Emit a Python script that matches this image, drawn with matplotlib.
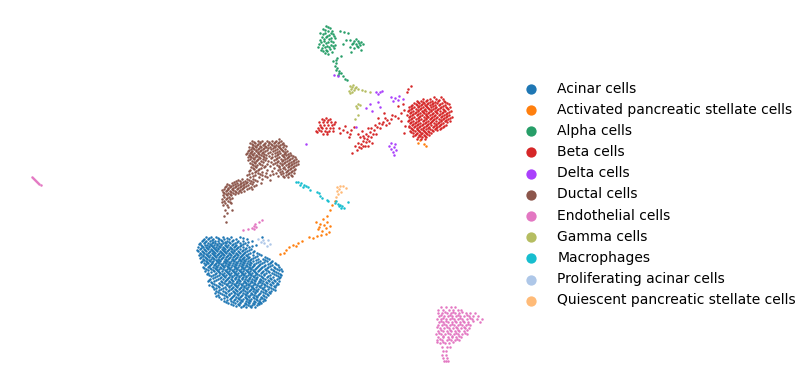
import matplotlib
matplotlib.use("Agg")
import matplotlib.pyplot as plt

# embedding positions, (row, [positions along row]) for dense blobs
acinar_rows = [
    (237, [206, 211, 216, 223, 231, 240, 262]),
    (239, [204, 208, 213, 219, 224, 229, 236, 247]),
    (241, [202, 206, 210, 215, 218, 222, 227, 232, 238, 243, 252]),
    (243, [200, 204, 208, 212, 215, 219, 223, 226, 230, 235, 240, 245]),
    (245, [201, 205, 207, 211, 214, 217, 221, 225, 228, 232, 236, 241, 247, 256]),
    (247, [198, 203, 206, 209, 213, 216, 220, 223, 227, 230, 234, 238, 243, 249]),
    (249, [200, 204, 208, 211, 215, 218, 222, 225, 229, 232, 236, 240, 245, 251]),
    (251, [198, 202, 206, 210, 213, 217, 220, 224, 227, 231, 234, 238, 242, 247, 254]),
    (253, [200, 204, 208, 212, 215, 219, 222, 226, 229, 233, 236, 240, 244, 250, 257]),
    (255, [199, 203, 207, 210, 214, 217, 221, 224, 228, 231, 235, 238, 242, 246, 253, 261]),
    (257, [201, 205, 209, 212, 216, 219, 223, 226, 230, 233, 237, 240, 244, 249, 255, 265]),
    (259, [203, 207, 211, 214, 218, 221, 225, 228, 232, 235, 239, 242, 246, 251, 258, 263, 269]),
    (261, [202, 206, 210, 213, 217, 220, 224, 227, 231, 234, 238, 241, 245, 248, 253, 260, 267, 272]),
    (263, [204, 208, 212, 216, 219, 223, 226, 230, 233, 237, 240, 244, 247, 251, 256, 262, 270, 275]),
    (265, [205, 210, 214, 218, 222, 225, 229, 232, 236, 239, 243, 246, 250, 254, 259, 265, 272, 278]),
    (267, [203, 208, 213, 217, 220, 224, 228, 231, 235, 238, 242, 245, 249, 252, 257, 262, 268, 274, 279]),
    (269, [206, 211, 216, 219, 223, 227, 230, 234, 237, 241, 244, 248, 251, 255, 260, 265, 271, 277, 281]),
    (271, [205, 214, 218, 222, 226, 229, 233, 236, 240, 243, 247, 250, 254, 258, 263, 268, 274, 282]),
    (273, [208, 216, 220, 224, 228, 231, 235, 238, 242, 245, 249, 252, 256, 261, 266, 272, 278]),
    (275, [209, 213, 219, 223, 226, 230, 234, 237, 241, 244, 248, 251, 255, 259, 264, 270, 276, 281]),
    (277, [215, 221, 225, 229, 232, 236, 239, 243, 246, 250, 254, 257, 262, 267, 273, 280]),
    (279, [210, 218, 223, 227, 231, 235, 238, 242, 245, 249, 252, 256, 260, 265, 271, 277]),
    (281, [208, 214, 221, 225, 229, 233, 237, 240, 244, 248, 251, 255, 259, 263, 269, 275, 279]),
    (283, [212, 219, 224, 228, 232, 236, 239, 243, 246, 250, 254, 258, 262, 267, 273, 277]),
    (285, [209, 216, 222, 227, 231, 235, 238, 242, 246, 249, 253, 257, 261, 265, 271, 276]),
    (287, [213, 219, 225, 229, 233, 237, 241, 244, 248, 252, 256, 260, 264, 269, 275]),
    (289, [214, 221, 226, 231, 235, 239, 243, 247, 251, 254, 258, 263, 268, 273]),
    (291, [216, 223, 228, 233, 237, 241, 245, 249, 253, 257, 261, 266, 271]),
    (293, [215, 220, 226, 231, 235, 239, 243, 247, 251, 255, 260, 265, 270]),
    (295, [218, 224, 229, 234, 238, 242, 246, 250, 254, 258, 263, 268]),
    (297, [219, 227, 232, 236, 240, 245, 249, 253, 257, 261, 266]),
    (299, [221, 230, 235, 239, 243, 247, 251, 256, 260, 264]),
    (301, [224, 231, 237, 242, 246, 250, 254, 259, 263]),
    (303, [228, 235, 240, 245, 249, 253, 258, 261]),
    (305, [233, 239, 244, 248, 252, 257]),
    (307, [241, 246, 251, 255]),
    # second pass between the rows
    (238, [209, 218, 227, 243]),
    (240, [203, 212, 221, 233]),
    (242, [205, 213, 225, 229, 237, 248]),
    (244, [199, 210, 217, 221, 233, 243]),
    (246, [202, 209, 212, 219, 226, 235, 240, 252]),
    (248, [201, 207, 214, 218, 224, 231, 237, 246]),
    (250, [197, 205, 212, 216, 223, 228, 234, 243, 249]),
    (252, [203, 209, 214, 221, 225, 232, 239, 245, 253]),
    (254, [201, 206, 213, 218, 223, 230, 237, 243, 248, 259]),
    (256, [203, 208, 215, 220, 227, 234, 241, 247, 257]),
    (258, [200, 206, 213, 222, 229, 236, 243, 248, 253, 267]),
    (260, [204, 209, 216, 219, 226, 233, 240, 244, 250, 256, 265]),
    (262, [201, 207, 212, 218, 225, 229, 236, 243, 250, 258, 264, 271]),
    (264, [206, 211, 215, 221, 228, 235, 242, 249, 254, 260, 268, 276]),
    (266, [209, 216, 223, 227, 234, 241, 247, 253, 258, 264, 270]),
    (268, [204, 210, 215, 221, 229, 236, 243, 250, 256, 261, 267, 275]),
    (270, [208, 213, 217, 225, 232, 239, 246, 253, 259, 266, 273, 279]),
    (272, [211, 219, 227, 234, 241, 248, 255, 262, 269, 276]),
    (274, [207, 215, 222, 229, 236, 243, 250, 257, 264, 274, 280]),
    (276, [211, 217, 224, 232, 239, 246, 253, 261, 268, 278]),
    (278, [213, 220, 228, 235, 242, 249, 256, 263, 270, 279]),
    (280, [209, 216, 226, 232, 239, 247, 254, 261, 268, 274]),
    (282, [211, 222, 230, 237, 245, 252, 260, 266, 272]),
    (284, [214, 220, 226, 234, 241, 248, 255, 264, 270, 278]),
    (286, [212, 218, 229, 236, 244, 251, 259, 267, 274]),
    (288, [216, 223, 232, 240, 246, 253, 262, 271]),
    (290, [219, 229, 236, 243, 250, 256, 265, 275]),
    (292, [218, 225, 234, 240, 247, 255, 263, 269]),
    (294, [222, 229, 237, 245, 252, 259, 267]),
    (296, [216, 226, 233, 241, 248, 256, 264]),
    (298, [224, 231, 238, 246, 254, 262]),
    (300, [227, 234, 241, 249, 257, 265]),
    (302, [226, 233, 240, 248, 255, 260]),
    (304, [231, 238, 246, 254, 259]),
    (306, [236, 243, 250]),
]
ductal_rows = [
    (139, [279]),
    (141, [252, 258, 262, 267, 272, 276, 281]),
    (143, [250, 255, 260, 265, 269, 274, 278, 283]),
    (145, [253, 257, 263, 268, 272, 276, 280, 284]),
    (147, [249, 252, 256, 261, 266, 270, 275, 279, 283]),
    (149, [251, 254, 258, 263, 271, 277, 281, 285]),
    (151, [248, 252, 256, 260, 265, 273, 279, 283, 287]),
    (153, [247, 250, 254, 258, 262, 268, 275, 280, 285, 290]),
    (155, [249, 253, 256, 261, 266, 277, 282, 286, 291]),
    (157, [248, 251, 255, 259, 264, 272, 279, 284, 288, 295]),
    (159, [250, 254, 258, 263, 276, 281, 285, 290, 296]),
    (161, [252, 256, 261, 268, 278, 282, 287, 293, 298]),
    (163, [250, 255, 259, 275, 280, 284, 289, 294]),
    (165, [253, 257, 262, 277, 282, 286, 291, 296]),
    (167, [251, 256, 264, 279, 284, 288, 293]),
    (169, [254, 259, 280, 285, 290, 295]),
    (171, [249, 256, 272, 282, 287, 292]),
    (173, [252, 258, 266, 276, 283, 289, 294]),
    (175, [247, 255, 262, 270, 286, 291]),
    (177, [250, 259, 267, 284, 288]),
    (179, [242, 247, 253, 262]),
    (181, [236, 240, 245, 251, 257]),
    (183, [232, 237, 241, 246, 250, 261]),
    (185, [229, 233, 238, 243, 248, 256]),
    (187, [225, 230, 235, 240, 244, 251]),
    (189, [224, 228, 232, 237, 242, 247, 252]),
    (191, [226, 230, 235, 239, 244]),
    (193, [224, 228, 233, 238]),
    (195, [223, 227, 231]),
    (197, [224, 229]),
    (199, [222, 226, 230]),
    (201, [224, 228]),
    (203, [225, 231]),
    (205, [223, 227]),
    (207, [228]),
    (210, [225, 232]),
    (213, [227]),
    (216, [224]),
    (222, [226]),
    # second pass between the rows
    (142, [254, 260, 269, 275, 279]),
    (144, [252, 258, 264, 271, 282]),
    (146, [255, 260, 265, 274, 278, 286]),
    (148, [253, 259, 264, 268, 273, 280]),
    (150, [249, 256, 261, 267, 275, 282]),
    (152, [251, 258, 263, 270, 277, 285]),
    (154, [246, 252, 259, 264, 272, 278, 284, 288]),
    (156, [250, 257, 263, 269, 275, 283, 289, 293]),
    (158, [253, 260, 266, 271, 277, 287, 292]),
    (160, [248, 257, 265, 274, 283, 289, 294]),
    (162, [254, 263, 271, 277, 285, 291, 296]),
    (164, [252, 260, 267, 273, 282, 288, 292, 298]),
    (166, [255, 265, 270, 279, 289, 294]),
    (168, [253, 261, 274, 283, 291]),
    (170, [250, 258, 267, 278, 288, 294]),
    (172, [255, 262, 280, 286, 291]),
    (174, [249, 260, 273, 281, 288]),
    (176, [253, 265, 278, 283, 292]),
    (180, [238, 249, 255, 270]),
    (182, [234, 243, 247, 253]),
    (184, [227, 235, 240, 244, 252]),
    (186, [226, 231, 236, 241, 246, 254]),
    (188, [228, 233, 238, 243, 249]),
    (190, [222, 227, 233, 240]),
    (192, [223, 231, 236, 241]),
    (194, [226, 230, 235]),
    (198, [227, 232]),
    (202, [222, 230]),
]
beta_rows = [
    (97, [434, 441]),
    (99, [423, 430, 436, 443]),
    (101, [417, 421, 426, 432, 438, 444]),
    (103, [414, 419, 424, 428, 433, 437, 442, 447]),
    (105, [412, 417, 421, 425, 430, 435, 439, 445]),
    (107, [409, 414, 418, 423, 427, 431, 436, 441, 446, 450]),
    (109, [411, 416, 420, 425, 429, 433, 438, 443, 448]),
    (111, [408, 413, 418, 422, 426, 431, 435, 440, 445, 451]),
    (113, [410, 415, 420, 424, 428, 433, 437, 442, 447]),
    (115, [407, 412, 417, 422, 426, 430, 435, 439, 444, 449]),
    (117, [409, 414, 419, 424, 428, 432, 437, 441, 446, 452]),
    (119, [411, 416, 421, 426, 430, 434, 439, 443, 448]),
    (121, [408, 413, 418, 423, 428, 432, 436, 441, 445, 450]),
    (123, [410, 415, 420, 425, 430, 434, 438, 443]),
    (125, [412, 417, 422, 427, 431, 436, 440, 446]),
    (127, [409, 414, 419, 424, 429, 433, 437, 443]),
    (129, [412, 417, 421, 426, 430, 435, 440]),
    (131, [410, 415, 419, 424, 428, 433]),
    (133, [413, 417, 422, 426, 431]),
    (135, [415, 419, 424, 429]),
    (137, [418, 422, 426]),
    (139, [417, 421, 425]),
    # second pass between the rows
    (100, [427, 439]),
    (102, [418, 423, 430, 435, 445]),
    (104, [416, 422, 427, 432, 440, 449]),
    (106, [411, 419, 426, 433, 443]),
    (108, [412, 421, 428, 435, 440, 447]),
    (110, [409, 418, 424, 431, 437, 444]),
    (112, [411, 416, 423, 429, 436, 443, 449]),
    (114, [413, 418, 426, 432, 440, 446]),
    (116, [410, 420, 427, 434, 442, 447]),
    (118, [412, 418, 426, 431, 436, 444, 450]),
    (120, [409, 419, 424, 433, 441, 446]),
    (122, [411, 416, 426, 431, 439, 447]),
    (124, [413, 418, 423, 428, 436, 441]),
    (126, [409, 415, 420, 426, 434, 439, 444]),
    (128, [411, 417, 423, 428, 436, 441]),
    (130, [413, 418, 423, 432, 437]),
    (132, [411, 420, 425, 429]),
    (134, [416, 421, 427]),
    (136, [413, 420, 425]),
]
beta_pairs = [(322, 119), (326, 118), (330, 119), (319, 122), (323, 122), (327, 122), (331, 122),
              (335, 122), (320, 125), (324, 125), (328, 125), (332, 125), (318, 128), (322, 128),
              (326, 128), (330, 128), (321, 131), (325, 131), (329, 131), (333, 131), (317, 132),
              (327, 134), (323, 134), (316, 131), (339, 128), (343, 130), (347, 132), (340, 133),
              (351, 130), (354, 127), (345, 126), (350, 134), (361, 148), (365, 146), (358, 143),
              (363, 141), (367, 139), (371, 137), (360, 137), (366, 134), (370, 132), (374, 130),
              (376, 134), (380, 128), (372, 143), (368, 146), (357, 150), (363, 136), (355, 146),
              (358, 134), (362, 131), (375, 125), (379, 123), (383, 122), (387, 120), (391, 119),
              (386, 125), (395, 116), (398, 118), (401, 113), (404, 110), (408, 89), (411, 86),
              (407, 92), (403, 104), (398, 106), (401, 121), (405, 126), (404, 133), (352, 153),
              (368, 128), (378, 118), (384, 113), (349, 137),
              (324, 120), (321, 127), (328, 120), (333, 128), (319, 130), (327, 132), (334, 124),
              (364, 138), (368, 136), (361, 144), (366, 142), (369, 141), (373, 134), (359, 147),
              (363, 146), (371, 128), (377, 127), (382, 124), (385, 118), (389, 123), (392, 115)]
activated_pairs = [(418, 143), (424, 144), (426, 146), (420, 140), (316, 222), (323, 219), (327, 216),
                   (330, 210), (320, 224), (318, 229), (322, 231), (326, 228), (330, 226), (326, 234),
                   (321, 235), (329, 232), (327, 222), (317, 236), (313, 238), (309, 237), (302, 241),
                   (298, 243), (296, 246), (293, 245), (289, 247), (286, 250), (284, 253), (280, 254),
                   (319, 227), (324, 225), (335, 201), (332, 205)]
alpha_pairs = [(326, 26), (330, 28), (323, 29), (328, 31), (332, 31), (320, 33), (325, 33), (329, 35),
               (333, 34), (322, 37), (326, 37), (331, 38), (335, 38), (320, 40), (324, 41), (328, 42),
               (333, 42), (319, 44), (323, 45), (327, 46), (331, 45), (335, 45), (318, 47), (322, 48),
               (326, 50), (330, 49), (334, 48), (321, 50), (325, 53), (332, 52), (328, 54), (340, 31),
               (344, 32), (348, 33), (350, 40), (354, 41), (358, 41), (361, 42), (352, 44), (356, 44),
               (360, 45), (363, 44), (350, 47), (354, 48), (358, 47), (351, 52), (361, 50), (346, 40),
               (343, 44), (337, 58), (341, 56), (333, 61), (336, 63), (335, 66), (337, 68), (339, 71),
               (341, 73), (338, 75), (343, 76), (345, 79), (347, 80),
               (328, 27), (325, 30), (331, 33), (323, 34), (327, 36), (324, 39), (329, 39), (334, 36),
               (321, 42), (326, 43), (331, 41), (325, 47), (329, 47), (333, 46), (323, 51), (327, 51),
               (356, 39), (353, 43), (359, 43), (357, 46), (336, 60), (339, 73), (336, 70)]
delta_pairs = [(376, 92), (380, 92), (378, 94), (382, 91), (391, 97), (395, 98), (399, 96), (403, 99),
               (393, 101), (398, 100), (370, 104), (378, 102), (366, 108), (372, 111), (380, 107),
               (306, 144), (391, 143), (395, 144), (394, 147), (391, 149), (396, 150), (393, 152),
               (389, 146), (394, 155), (334, 75), (338, 76), (356, 127)]
gamma_pairs = [(350, 86), (353, 85), (356, 87), (351, 89), (354, 90), (352, 92), (349, 91), (358, 89),
               (362, 90), (365, 91), (358, 104), (356, 106), (360, 105), (357, 108), (358, 115),
               (355, 119), (370, 92), (352, 87), (355, 88), (350, 93)]
macro_pairs = [(298, 182), (301, 183), (304, 185), (306, 186), (308, 187), (310, 190), (296, 182),
               (317, 192), (320, 196), (322, 198), (319, 193), (327, 200), (335, 203), (338, 204),
               (340, 205), (342, 206), (344, 208), (336, 201), (328, 201), (348, 202), (300, 185),
               (303, 187), (339, 206), (341, 208)]
endo_rows = [
    (307, [441, 446, 451, 455]),
    (310, [438, 443, 449, 453, 458, 461]),
    (313, [438, 442, 447, 451, 455, 459, 466, 470, 475]),
    (316, [439, 444, 448, 452, 456, 460, 464, 469, 473, 478]),
    (319, [437, 441, 446, 450, 454, 458, 462, 467, 472, 477, 482]),
    (322, [439, 443, 448, 452, 456, 460, 464, 468, 480]),
    (325, [438, 442, 446, 450, 454, 458, 462, 466, 470]),
    (328, [440, 444, 449, 453, 457, 461, 465, 469]),
    (331, [438, 443, 447, 451, 455, 459, 464]),
    (334, [436, 441, 445, 450, 454, 458, 462, 467]),
    (337, [438, 443, 448, 452, 456, 461]),
    (340, [437, 442, 447, 451, 455, 459]),
    (343, [440, 445, 449]),
    (347, [442, 447, 450]),
    (351, [443, 446]),
    (355, [442, 446]),
    (358, [443, 447]),
    (361, [444, 446, 448]),
    # second pass between the rows
    (312, [445, 453, 462]),
    (315, [441, 450, 458, 467]),
    (318, [443, 452, 460, 470]),
    (321, [441, 446, 455, 463, 473]),
    (324, [444, 452, 460, 468]),
    (327, [437, 447, 456, 464]),
    (330, [441, 450, 458, 467]),
    (333, [439, 448, 456, 465]),
    (336, [443, 452, 459]),
    (339, [440, 449, 457]),
    (342, [437, 443, 453]),
]
endo_pairs = [(32, 177), (33, 178), (34, 179), (35, 180), (36, 181), (37, 182), (38, 183), (39, 184),
              (41, 185), (243, 230), (252, 228), (254, 226), (256, 227), (255, 224), (259, 222),
              (262, 220), (254, 229), (248, 229)]
prolif_pairs = [(263, 240), (268, 240), (264, 243), (270, 244), (267, 246), (261, 242), (258, 239)]
quiescent_pairs = [(337, 187), (340, 186), (343, 186), (339, 189), (337, 191), (341, 192), (338, 194),
                   (336, 197), (346, 188)]

names = ["Acinar cells", "Activated pancreatic stellate cells", "Alpha cells", "Beta cells",
         "Delta cells", "Ductal cells", "Endothelial cells", "Gamma cells", "Macrophages",
         "Proliferating acinar cells", "Quiescent pancreatic stellate cells"]
colors = ["#1f77b4", "#ff7f0e", "#279e68", "#d62728", "#aa40fc", "#8c564b",
          "#e377c2", "#b5bd61", "#17becf", "#aec7e8", "#ffbb78"]


def from_rows(rows):
    return [(x, y) for y, xs in rows for x in xs]


groups = [from_rows(acinar_rows), activated_pairs, alpha_pairs, from_rows(beta_rows) + beta_pairs,
          delta_pairs, from_rows(ductal_rows), from_rows(endo_rows) + endo_pairs, gamma_pairs,
          macro_pairs, prolif_pairs, quiescent_pairs]

fig = plt.figure(figsize=(8.11, 3.89), dpi=100)
ax = fig.add_axes([0, 0, 1, 1])
for name, color, pts in zip(names, colors, groups):
    ax.scatter([p[0] for p in pts], [p[1] for p in pts], s=3.2, color=color, linewidths=0)
    ax.scatter([], [], s=55, color=color, linewidths=0, label=name)
ax.set_xlim(0, 811)
ax.set_ylim(389, 0)
ax.axis("off")
ax.legend(loc="center left", bbox_to_anchor=(0.6375, 0.5), frameon=False, fontsize=10,
          labelspacing=0.518, handletextpad=0.9, borderpad=0, borderaxespad=0)
fig.savefig("out.png", dpi=100)
